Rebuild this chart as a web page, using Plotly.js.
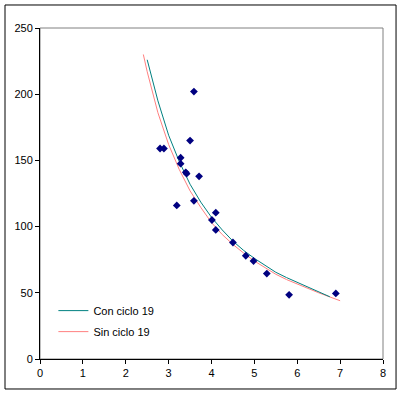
<!DOCTYPE html>
<html>
<head>
<meta charset="utf-8">
<script src="https://cdn.plot.ly/plotly-3.0.1.min.js"></script>
<style>
html,body{margin:0;padding:0;background:#fff;}
#chart{width:402px;height:393px;}
</style>
</head>
<body>
<div id="chart"></div>
<script>
// Observed points
var obsX = [2.80, 2.89, 3.19, 3.28, 3.28, 3.40, 3.42, 3.50, 3.59, 3.59, 3.71, 4.01, 4.10, 4.10, 4.50, 4.80, 4.98, 5.29, 5.81, 6.90];
var obsY = [159, 159, 116, 152, 147.5, 141, 140, 165, 202, 119.5, 138, 105, 110.5, 97.5, 88, 78, 74, 64.5, 48.5, 49.5];

// Fitted curve "Con ciclo 19"
var conX = [2.50, 2.75, 3.00, 3.25, 3.50, 3.75, 4.00, 4.25, 4.50, 4.75, 5.00, 5.25, 5.50, 5.75, 6.00, 6.25, 6.50, 6.76];
var conY = [226, 195, 169, 149, 132, 118.5, 107, 97.5, 89, 82, 76, 70.5, 65.5, 61.5, 58, 54, 51, 47];

// Fitted curve "Sin ciclo 19"
var sinX = [2.41, 2.50, 2.75, 3.00, 3.25, 3.50, 3.75, 4.00, 4.25, 4.50, 4.75, 5.00, 5.25, 5.50, 5.75, 6.00, 6.25, 6.50, 6.75, 7.00];
var sinY = [230, 217, 186, 162, 143, 127, 114.5, 103, 94, 86.5, 80, 74, 69, 64, 60, 56.5, 53, 50, 47, 44];

var labelCon = "Con ciclo 19";
var labelSin = "Sin ciclo 19";

var traces = [
  {x: sinX, y: sinY, type: 'scatter', mode: 'lines', name: labelSin,
   line: {color: '#ff8080', width: 1}, legendgroup: 'b', legendrank: 2},
  {x: conX, y: conY, type: 'scatter', mode: 'lines', name: labelCon,
   line: {color: '#008080', width: 1}, legendgroup: 'a', legendrank: 1},
  {x: obsX, y: obsY, type: 'scatter', mode: 'markers', showlegend: false,
   marker: {symbol: 'diamond', size: 6, color: '#000080'}}
];

var font = {family: '"Liberation Sans", Arial, sans-serif', size: 11, color: '#000'};

var layout = {
  width: 402, height: 393,
  margin: {l: 40, r: 19, t: 28, b: 34},
  paper_bgcolor: '#fff', plot_bgcolor: '#fff',
  font: font,
  showlegend: true,
  legend: {x: 0.039, y: 0.19, xanchor: 'left', yanchor: 'top',
           bgcolor: 'rgba(0,0,0,0)', borderwidth: 0, font: font,
           traceorder: 'grouped', tracegroupgap: 2},
  xaxis: {range: [0, 8], dtick: 1, tick0: 0, showgrid: false, zeroline: false,
          showline: true, linecolor: '#000', linewidth: 1,
          ticks: 'outside', ticklen: 4, tickcolor: '#000', tickfont: font,
          fixedrange: true},
  yaxis: {range: [0, 250], dtick: 50, tick0: 0, showgrid: false, zeroline: false,
          showline: true, linecolor: '#000', linewidth: 1,
          ticks: 'outside', ticklen: 4, tickcolor: '#000', tickfont: font,
          fixedrange: true},
  shapes: [
    {type: 'rect', xref: 'paper', yref: 'paper', x0: 0, x1: 1, y0: 0, y1: 1,
     line: {color: '#808080', width: 1}, layer: 'below'},
    {type: 'rect', xref: 'paper', yref: 'paper', x0: -0.102, x1: 1.038, y0: -0.0906, y1: 1.0695,
     line: {color: '#000', width: 1}, layer: 'below'}
  ]
};

Plotly.newPlot('chart', traces, layout, {staticPlot: true, displayModeBar: false});
</script>
</body>
</html>
